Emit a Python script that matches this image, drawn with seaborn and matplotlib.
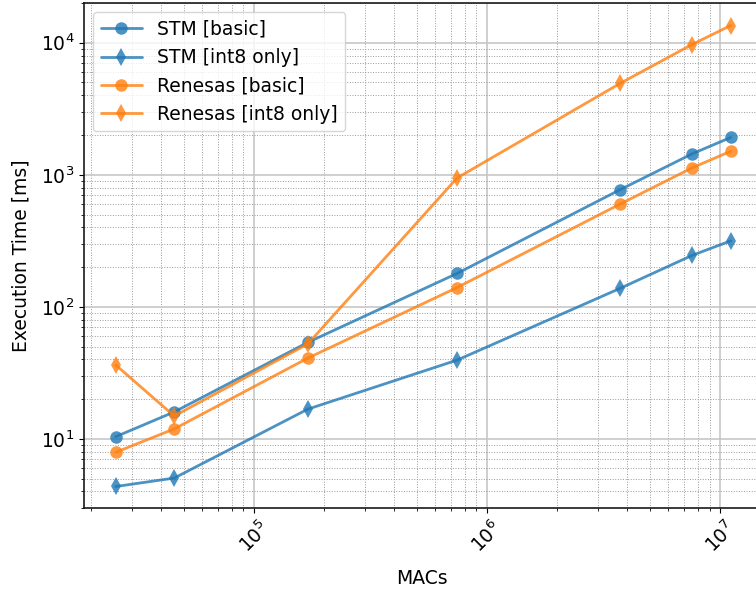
import numpy as np
import pandas as pd
import matplotlib
matplotlib.use("Agg")
import matplotlib.pyplot as plt
import seaborn as sns

# values (log-log)
macs = [2.55e4, 4.54e4, 1.70e5, 7.43e5, 3.72e6, 7.57e6, 1.11e7]
stm_basic = [10.4, 16.0, 53.8, 179, 771, 1439, 1918]
stm_int8 = [4.36, 5.05, 16.8, 39.5, 138, 245, 316]
renesas_basic = [7.92, 11.9, 40.9, 140, 600, 1127, 1507]
renesas_int8 = [36.2, 14.9, 52.4, 946, 4920, 9690, 13500]

series_names = ["STM [basic]", "STM [int8 only]", "Renesas [basic]", "Renesas [int8 only]"]
series_values = [stm_basic, stm_int8, renesas_basic, renesas_int8]
series_colors = ["#1f77b4", "#1f77b4", "#ff7f0e", "#ff7f0e"]
series_markers = ["o", "d", "o", "d"]

rows = []
for name, vals in zip(series_names, series_values):
    for m, v in zip(macs, vals):
        rows.append({"MACs": m, "time": v, "series": name})
df = pd.DataFrame(rows)

sns.set_style("white")
plt.rcParams["font.family"] = ["DejaVu Sans"]
plt.rcParams.update({"text.color": "black", "axes.labelcolor": "black",
                     "xtick.color": "black", "ytick.color": "black"})

fig = plt.figure(figsize=(7.56, 5.92), dpi=100)
ax = fig.add_axes([0.111, 0.142, 0.895, 0.853])

sns.lineplot(
    data=df, x="MACs", y="time", hue="series", style="series",
    hue_order=series_names, style_order=series_names,
    palette=dict(zip(series_names, series_colors)),
    markers=dict(zip(series_names, series_markers)),
    dashes=False, markersize=9, markeredgewidth=0, linewidth=2,
    alpha=0.8, ax=ax,
)

ax.set_xscale("log")
ax.set_yscale("log")
ax.set_xlim(1.86e4, 1.49e7)
ax.set_ylim(3.0, 20000)

ax.grid(which="major", color="0.78", linewidth=1.2, linestyle="-")
ax.grid(which="minor", color="0.6", linewidth=0.7, linestyle=":")
ax.tick_params(which="both", bottom=True, left=True, colors="black")
ax.tick_params(axis="both", labelsize=13.5)
for s in ax.spines.values():
    s.set_color("0.1")
    s.set_linewidth(1.2)

plt.setp(ax.get_xticklabels(), rotation=45)
ax.set_xlabel("MACs", fontsize=13.5, labelpad=9)
ax.set_ylabel("Execution Time [ms]", fontsize=13.5, labelpad=7)

leg = ax.legend(loc="upper left", fontsize=13.5, title=None, handlelength=2.2)
for h in leg.legend_handles:
    h.set_markeredgewidth(0)

fig.savefig("out.png", dpi=100)
